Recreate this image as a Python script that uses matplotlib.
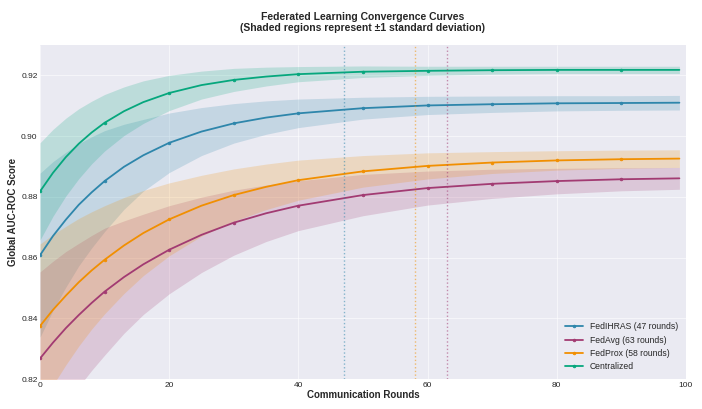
import numpy as np
import matplotlib.pyplot as plt

rounds = [0, 2, 4, 6, 8, 10, 13, 16, 20, 25, 30, 35, 40, 50, 60, 70, 80, 90, 99]
marker_rounds = [0, 10, 20, 30, 40, 50, 60, 70, 80, 90]

# Media AUC-ROC por método
fedihras_mean = [0.8608, 0.8671, 0.8725, 0.8774, 0.8815, 0.8852, 0.8899, 0.8937, 0.8978,
                 0.9015, 0.9042, 0.9061, 0.9075, 0.9092, 0.9101, 0.9105, 0.9108, 0.9109, 0.9110]
fedavg_mean = [0.8268, 0.8320, 0.8368, 0.8411, 0.8451, 0.8488, 0.8536, 0.8578, 0.8626,
               0.8675, 0.8715, 0.8746, 0.8771, 0.8806, 0.8829, 0.8843, 0.8852, 0.8858, 0.8861]
fedprox_mean = [0.8375, 0.8428, 0.8475, 0.8519, 0.8558, 0.8593, 0.8640, 0.8681, 0.8726,
                0.8771, 0.8806, 0.8833, 0.8855, 0.8884, 0.8902, 0.8913, 0.8920, 0.8924, 0.8926]
central_mean = [0.8818, 0.8879, 0.8931, 0.8975, 0.9012, 0.9044, 0.9082, 0.9112, 0.9142,
                0.9168, 0.9185, 0.9196, 0.9204, 0.9212, 0.9215, 0.9217, 0.9218, 0.9218, 0.9218]

# Desviación estándar (ancho de la banda sombreada)
fedihras_std = [0.0270, 0.0245, 0.0222, 0.0201, 0.0183, 0.0166, 0.0140, 0.0118, 0.0098,
                0.0079, 0.0065, 0.0055, 0.0047, 0.0036, 0.0030, 0.0027, 0.0025, 0.0024, 0.0024]
fedavg_std = [0.0285, 0.0268, 0.0252, 0.0236, 0.0222, 0.0209, 0.0185, 0.0165, 0.0145,
              0.0124, 0.0107, 0.0093, 0.0082, 0.0068, 0.0056, 0.0048, 0.0042, 0.0038, 0.0036]
fedprox_std = [0.0270, 0.0248, 0.0228, 0.0210, 0.0193, 0.0178, 0.0158, 0.0140, 0.0120,
               0.0100, 0.0086, 0.0075, 0.0066, 0.0052, 0.0043, 0.0036, 0.0032, 0.0030, 0.0029]
central_std = [0.0160, 0.0143, 0.0128, 0.0115, 0.0103, 0.0093, 0.0080, 0.0070, 0.0058,
               0.0046, 0.0038, 0.0031, 0.0025, 0.0019, 0.0015, 0.0013, 0.0012, 0.0012, 0.0012]

labels = ['FedIHRAS (47 rounds)', 'FedAvg (63 rounds)', 'FedProx (58 rounds)', 'Centralized']
convergence_rounds = [47, 63, 58]
colors = ['#2E86AB', '#A23B72', '#F18F01', '#06A77D']

plt.style.use('seaborn-v0_8-darkgrid')
plt.rcParams['font.family'] = ['Liberation Sans', 'DejaVu Sans']

fig, ax = plt.subplots(figsize=(14.04, 8.18), dpi=50)
fig.subplots_adjust(left=0.057, right=0.977, top=0.89, bottom=0.073)

x = np.array(rounds)
marks = [rounds.index(r) for r in marker_rounds]
series = [(fedihras_mean, fedihras_std), (fedavg_mean, fedavg_std),
          (fedprox_mean, fedprox_std), (central_mean, central_std)]

for (mean, std), label, color in zip(series, labels, colors):
    m = np.array(mean)
    s = np.array(std)
    ax.plot(x, m, color=color, lw=2.6, marker='o', markersize=4,
            markevery=marks, label=label)
    ax.fill_between(x, m - s, m + s, color=color, alpha=0.2, lw=0)

# Líneas de convergencia
for r, color in zip(convergence_rounds, colors):
    ax.axvline(r, color=color, linestyle=':', lw=2, alpha=0.55)

ax.set_xlim(0, 100)
ax.set_ylim(0.82, 0.93)
ax.set_xticks([0, 20, 40, 60, 80, 100])
ax.set_yticks([0.82, 0.84, 0.86, 0.88, 0.90, 0.92])
ax.tick_params(labelsize=12)

ax.set_xlabel('Communication Rounds', fontsize=14, fontweight='bold', labelpad=2)
ax.set_ylabel('Global AUC-ROC Score', fontsize=14, fontweight='bold')
ax.set_title('Federated Learning Convergence Curves\n(Shaded regions represent ±1 standard deviation)',
             fontsize=15, fontweight='bold', pad=20)

ax.legend(loc='lower right', fontsize=12.5)

fig.savefig('out.png', dpi=50)
